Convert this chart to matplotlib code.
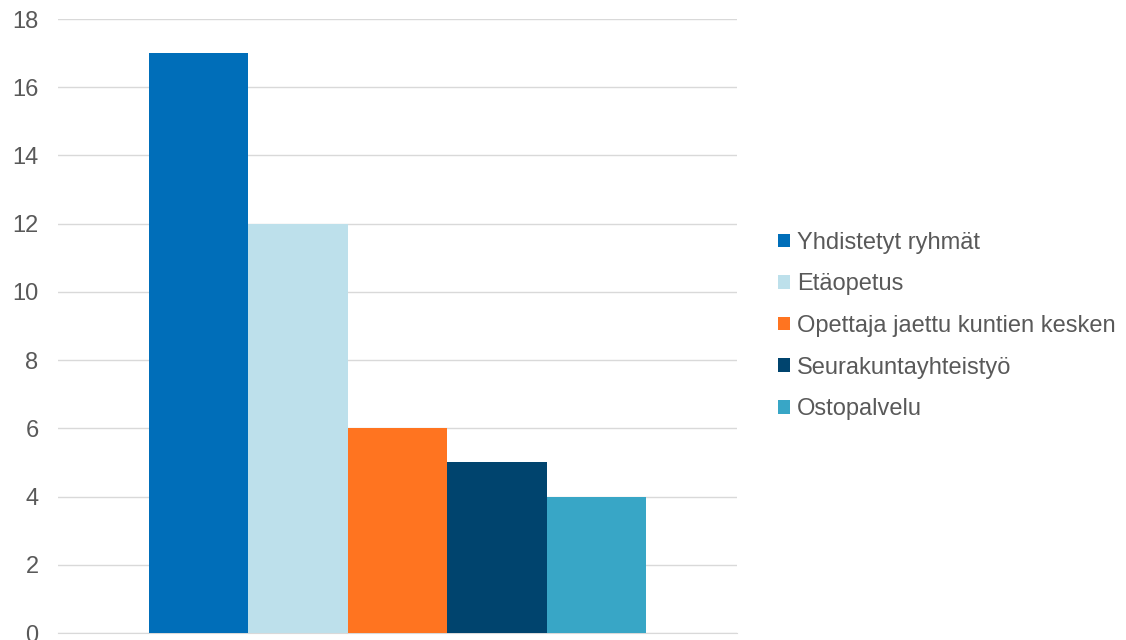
import matplotlib.pyplot as plt
import numpy as np

plt.rcParams['font.family'] = ['Liberation Sans', 'DejaVu Sans']

# Tiedot
series = ['Yhdistetyt ryhmät', 'Etäopetus', 'Opettaja jaettu kuntien kesken',
          'Seurakuntayhteistyö', 'Ostopalvelu']
values = [17, 12, 6, 5, 4]
colors = ['#006EB9', '#BDE0EB', '#FF7420', '#00446E', '#38A6C6']
yticks = [0, 2, 4, 6, 8, 10, 12, 14, 16, 18]

fig = plt.figure(figsize=(11.26, 6.4), dpi=100)
ax = fig.add_axes([58 / 1126, 7 / 640, 679 / 1126, 614 / 640])

n = len(values)
width = 0.733 / n
offsets = (np.arange(n) - (n - 1) / 2) * width
for i in range(n):
    ax.bar(offsets[i], values[i], width=width, color=colors[i], label=series[i], zorder=3)

ax.set_xlim(-0.5, 0.5)
ax.set_ylim(0, 18)
ax.set_yticks(yticks)
ax.set_xticks([])
ax.grid(axis='y', color='#D9D9D9', linewidth=1, zorder=0)
for s in ['top', 'right', 'left']:
    ax.spines[s].set_visible(False)
ax.spines['bottom'].set_color('#D9D9D9')
ax.tick_params(axis='y', length=0, labelsize=17, labelcolor='#595959', pad=14)

fig.legend(loc='center left', bbox_to_anchor=(778 / 1126, 1 - 326 / 640), frameon=False,
           fontsize=17, labelcolor='#595959', handlelength=0.5, handleheight=0.5,
           handletextpad=0.3, labelspacing=0.83, borderaxespad=0, borderpad=0)

fig.savefig('out.png', dpi=100)
